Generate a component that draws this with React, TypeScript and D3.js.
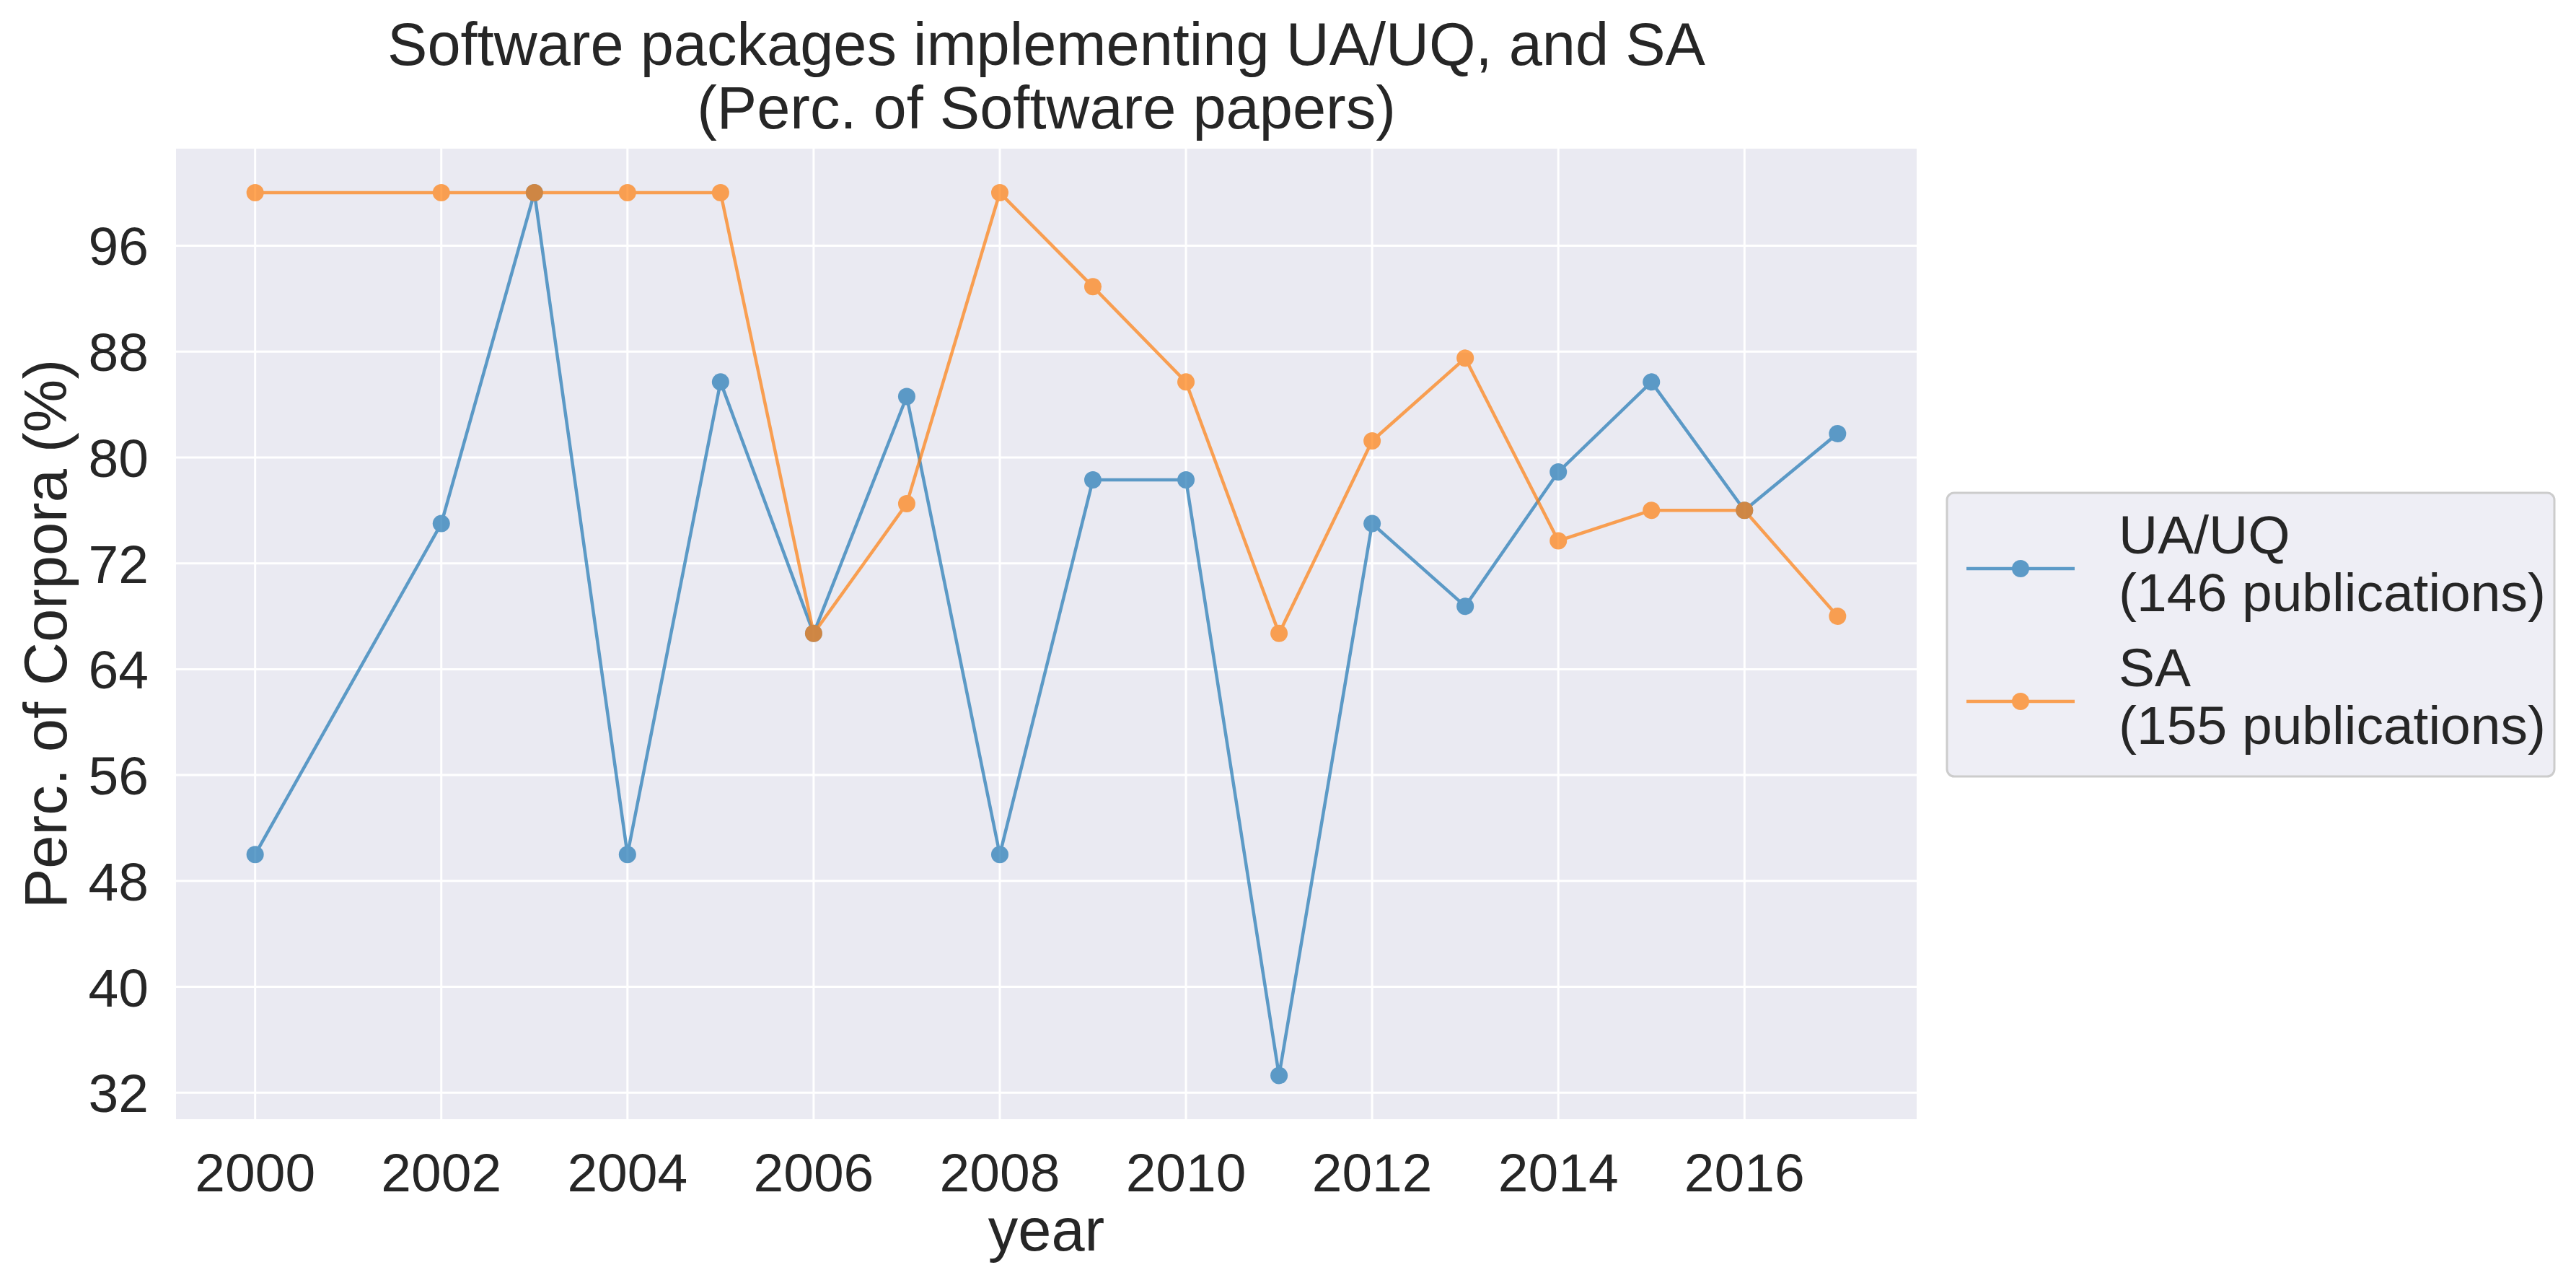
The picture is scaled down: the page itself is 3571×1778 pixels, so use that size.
import * as d3 from "d3";

const years = [2000, 2002, 2003, 2004, 2005, 2006, 2007, 2008, 2009, 2010, 2011, 2012, 2013, 2014, 2015, 2016, 2017];
const uaValues = [50, 75, 100, 50, 85.7, 66.7, 84.6, 50, 78.3, 78.3, 33.3, 75, 68.75, 78.9, 85.7, 76, 81.8];
const saValues = [100, 100, 100, 100, 100, 66.7, 76.5, 100, 92.9, 85.7, 66.7, 81.25, 87.5, 73.7, 76, 76, 68];
const seriesNames = ["UA/UQ", "SA"];
const seriesNotes = ["(146 publications)", "(155 publications)"];
const colors = ["#1f77b4", "#ff7f0e"];
const xTicks = [2000, 2002, 2004, 2006, 2008, 2010, 2012, 2014, 2016];
const yTicks = [32, 40, 48, 56, 64, 72, 80, 88, 96];

const W = 3571, H = 1778;
const L = 244, R = 2657, T = 206, B = 1551;
const font = "'Liberation Sans', Arial, sans-serif";

export default function App() {
  const x = d3.scaleLinear().domain([1999.15, 2017.85]).range([L, R]);
  const y = d3.scaleLinear().domain([30, 103.33]).range([B, T]);
  const series = [uaValues, saValues];
  const line = d3.line<number>().x((_, i) => x(years[i])).y((v) => y(v));

  return (
    <svg width={W} height={H} style={{ position: "absolute", left: 0, top: 0 }} fontFamily={font} fill="#262626">
      <rect width={W} height={H} fill="#fff" />
      <rect x={L} y={T} width={R - L} height={B - T} fill="#eaeaf2" />
      {xTicks.map((t) => (
        <line key={"gx" + t} x1={x(t)} x2={x(t)} y1={T} y2={B} stroke="#fff" strokeWidth={3} />
      ))}
      {yTicks.map((t) => (
        <line key={"gy" + t} x1={L} x2={R} y1={y(t)} y2={y(t)} stroke="#fff" strokeWidth={3} />
      ))}
      {series.map((vals, s) => (
        <g key={s} opacity={0.7}>
          <path d={line(vals) || ""} fill="none" stroke={colors[s]} strokeWidth={4.5} />
          {vals.map((v, i) => (
            <circle key={i} cx={x(years[i])} cy={y(v)} r={12} fill={colors[s]} />
          ))}
        </g>
      ))}
      {xTicks.map((t) => (
        <text key={"tx" + t} x={x(t)} y={1651} textAnchor="middle" fontSize={75}>{t}</text>
      ))}
      {yTicks.map((t) => (
        <text key={"ty" + t} x={206} y={y(t) + 27} textAnchor="end" fontSize={75}>{t}</text>
      ))}
      <text x={(L + R) / 2} y={1733} textAnchor="middle" fontSize={83}>year</text>
      <text transform={`translate(92,${(T + B) / 2}) rotate(-90)`} textAnchor="middle" fontSize={83}>Perc. of Corpora (%)</text>
      <text x={(L + R) / 2} y={90} textAnchor="middle" fontSize={83}>Software packages implementing UA/UQ, and SA</text>
      <text x={(L + R) / 2} y={178} textAnchor="middle" fontSize={83}>(Perc. of Software papers)</text>
      <rect x={2699} y={683} width={842} height={393} rx={10} fill="#eaeaf2" fillOpacity={0.8} stroke="#cccccc" strokeWidth={3} />
      {seriesNames.map((n, s) => {
        const base = 767 + s * 184;
        return (
          <g key={n}>
            <g opacity={0.7}>
              <line x1={2726} x2={2876} y1={base + 21} y2={base + 21} stroke={colors[s]} strokeWidth={4.5} />
              <circle cx={2801} cy={base + 21} r={12} fill={colors[s]} />
            </g>
            <text x={2937} y={base} fontSize={75}>{n}</text>
            <text x={2937} y={base + 80} fontSize={75}>{seriesNotes[s]}</text>
          </g>
        );
      })}
    </svg>
  );
}
